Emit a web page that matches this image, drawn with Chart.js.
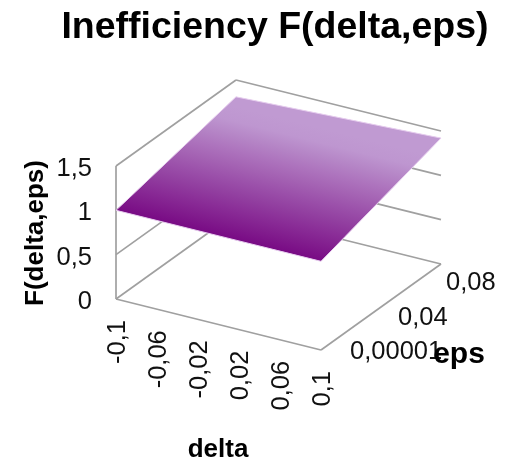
<!DOCTYPE html>
<html>
<head>
<meta charset="utf-8">
<style>html,body{margin:0;padding:0;background:#fff}#w{position:relative;width:508px;height:463px}canvas{display:block}</style>
<script src="https://cdn.jsdelivr.net/npm/chart.js@4"></script>
</head>
<body>
<div id="w"><canvas id="c" width="508" height="463"></canvas></div>
<script>
const chartTitle = "Inefficiency F(delta,eps)";
const deltaValues = [-0.1, -0.06, -0.02, 0.02, 0.06, 0.1];
const deltaTickLabels = ["-0,1", "-0,06", "-0,02", "0,02", "0,06", "0,1"];
const epsValues = [0.00001, 0.01, 0.02, 0.03, 0.04, 0.05, 0.06, 0.07, 0.08, 0.09, 0.1];
const epsTickValues = [0.00001, 0.04, 0.08];
const epsTickLabels = ["0,00001", "0,04", "0,08"];
const zTickValues = [0, 0.5, 1, 1.5];
const zTickLabels = ["0", "0,5", "1", "1,5"];
const F = [
  [1.000, 1.000, 1.000, 1.000, 1.000, 1.000],
  [1.031, 1.033, 1.035, 1.038, 1.040, 1.042],
  [1.062, 1.066, 1.071, 1.075, 1.080, 1.084],
  [1.093, 1.100, 1.106, 1.113, 1.119, 1.126],
  [1.124, 1.133, 1.142, 1.150, 1.159, 1.168],
  [1.155, 1.166, 1.177, 1.188, 1.199, 1.210],
  [1.186, 1.199, 1.212, 1.226, 1.239, 1.252],
  [1.217, 1.232, 1.248, 1.263, 1.279, 1.294],
  [1.248, 1.266, 1.283, 1.301, 1.318, 1.336],
  [1.279, 1.299, 1.319, 1.338, 1.358, 1.378],
  [1.310, 1.332, 1.354, 1.376, 1.398, 1.420]
];

// oblique projection of the 3D axes on to the page
const origin = {x: 116, y: 299};
const perDelta = {x: 205 / 0.2, y: 51 / 0.2};
const perEps = {x: 120 / 0.1, y: -86 / 0.1};
const perZ = -133 / 1.5;
function project(d, e, z) {
  const dd = d - deltaValues[0];
  return {
    x: origin.x + dd * perDelta.x + e * perEps.x,
    y: origin.y + dd * perDelta.y + e * perEps.y + z * perZ
  };
}

const dark = [120, 10, 132], light = [192, 154, 210];
function colorAt(z) {
  const t = Math.min(1, Math.max(0, (z - 1) / 0.3));
  const c = dark.map((v, i) => Math.round(v + (light[i] - v) * t));
  return `rgb(${c[0]},${c[1]},${c[2]})`;
}

const n = deltaValues.length - 1, m = epsValues.length - 1;
// outline of the surface, walked through every grid node on its boundary
const outline = [];
for (let j = 0; j <= n; j++) outline.push(project(deltaValues[j], epsValues[0], F[0][j]));
for (let i = 1; i <= m; i++) outline.push(project(deltaValues[n], epsValues[i], F[i][n]));
for (let j = n - 1; j >= 0; j--) outline.push(project(deltaValues[j], epsValues[m], F[m][j]));
for (let i = m - 1; i >= 0; i--) outline.push(project(deltaValues[0], epsValues[i], F[i][0]));

// colour runs with height, which on this surface climbs row by row with eps
const gctx = document.createElement('canvas').getContext('2d');
const mean = row => row.reduce((a, b) => a + b, 0) / row.length;
const fl = project(deltaValues[0], epsValues[0], F[0][0]);
const fr = project(deltaValues[n], epsValues[0], F[0][n]);
const backMid = project((deltaValues[0] + deltaValues[n]) / 2, epsValues[m], mean(F[m]));
const frontMid = {x: (fl.x + fr.x) / 2, y: (fl.y + fr.y) / 2};
let nx = -(fr.y - fl.y), ny = fr.x - fl.x;
const nlen = Math.hypot(nx, ny); nx /= nlen; ny /= nlen;
const reach = (backMid.x - frontMid.x) * nx + (backMid.y - frontMid.y) * ny;
const surfaceFill = gctx.createLinearGradient(frontMid.x, frontMid.y, frontMid.x + nx * reach, frontMid.y + ny * reach);
F.forEach((row, i) => surfaceFill.addColorStop(i / m, colorAt(mean(row))));

const surface = {
  data: outline,
  fill: 'shape',
  backgroundColor: surfaceFill,
  borderColor: '#e6cdee',
  borderWidth: 1,
  order: 1
};

const d0 = deltaValues[0], d1 = deltaValues[n], e0 = 0, e1 = epsValues[m];
function gridLine(p, q) {
  return {data: [p, q], borderColor: '#a0a0a0', borderWidth: 1.7, fill: false, order: 3};
}
const grid = [];
zTickValues.forEach(z => {
  grid.push(gridLine(project(d0, e0, z), project(d0, e1, z)));
  grid.push(gridLine(project(d0, e1, z), project(d1, e1, z)));
});
grid.push(gridLine(project(d0, e0, 0), project(d0, e0, 1.5)));
grid.push(gridLine(project(d0, e0, 0), project(d1, e0, 0)));
grid.push(gridLine(project(d1, e0, 0), project(d1, e1, 0)));

const SANS = '"Liberation Sans", Arial, sans-serif';
const textPlugin = {
  id: 'axesText',
  afterDraw(chart) {
    const ctx = chart.ctx;
    ctx.save();
    ctx.fillStyle = '#111';
    ctx.textBaseline = 'middle';
    ctx.font = `25.5px ${SANS}`;
    // F axis ticks
    ctx.textAlign = 'right';
    zTickValues.forEach((z, i) => {
      const p = project(d0, e0, z);
      ctx.fillText(zTickLabels[i], p.x - 24, p.y + 3);
    });
    // eps axis ticks
    ctx.textAlign = 'left';
    epsTickValues.forEach((e, i) => {
      const p = project(d1, e, 0);
      ctx.fillText(epsTickLabels[i], p.x + 29, p.y + 2);
    });
    // delta axis ticks
    ctx.textAlign = 'right';
    deltaValues.forEach((d, i) => {
      const p = project(d, e0, 0);
      ctx.save();
      ctx.translate(p.x + 1, p.y + 21);
      ctx.rotate(-Math.PI / 2);
      ctx.fillText(deltaTickLabels[i], 0, 1);
      ctx.restore();
    });
    // axis titles
    ctx.fillStyle = '#000';
    ctx.textAlign = 'center';
    ctx.font = `bold 26px ${SANS}`;
    ctx.fillText('delta', 218, 450);
    ctx.font = `bold 30px ${SANS}`;
    ctx.fillText('eps', 459, 355);
    ctx.font = `bold 26px ${SANS}`;
    ctx.save();
    ctx.translate(35, 233);
    ctx.rotate(-Math.PI / 2);
    ctx.fillText('F(delta,eps)', 0, 1);
    ctx.restore();
    ctx.restore();
  }
};

new Chart(document.getElementById('c'), {
  type: 'line',
  data: {datasets: [surface, ...grid]},
  options: {
    responsive: false,
    animation: false,
    events: [],
    layout: {padding: {left: 42, right: 0, top: 0, bottom: 0}},
    elements: {point: {radius: 0}, line: {tension: 0}},
    plugins: {
      legend: {display: false},
      tooltip: {enabled: false},
      title: {
        display: true,
        text: chartTitle,
        color: '#000',
        font: {family: SANS, size: 37.5, weight: 'bold', lineHeight: 1},
        padding: {top: 9, bottom: 3.5}
      }
    },
    scales: {
      x: {type: 'linear', display: false, min: 42, max: 508},
      y: {type: 'linear', display: false, min: 50, max: 463, reverse: true}
    }
  },
  plugins: [textPlugin]
});
</script>
</body>
</html>
